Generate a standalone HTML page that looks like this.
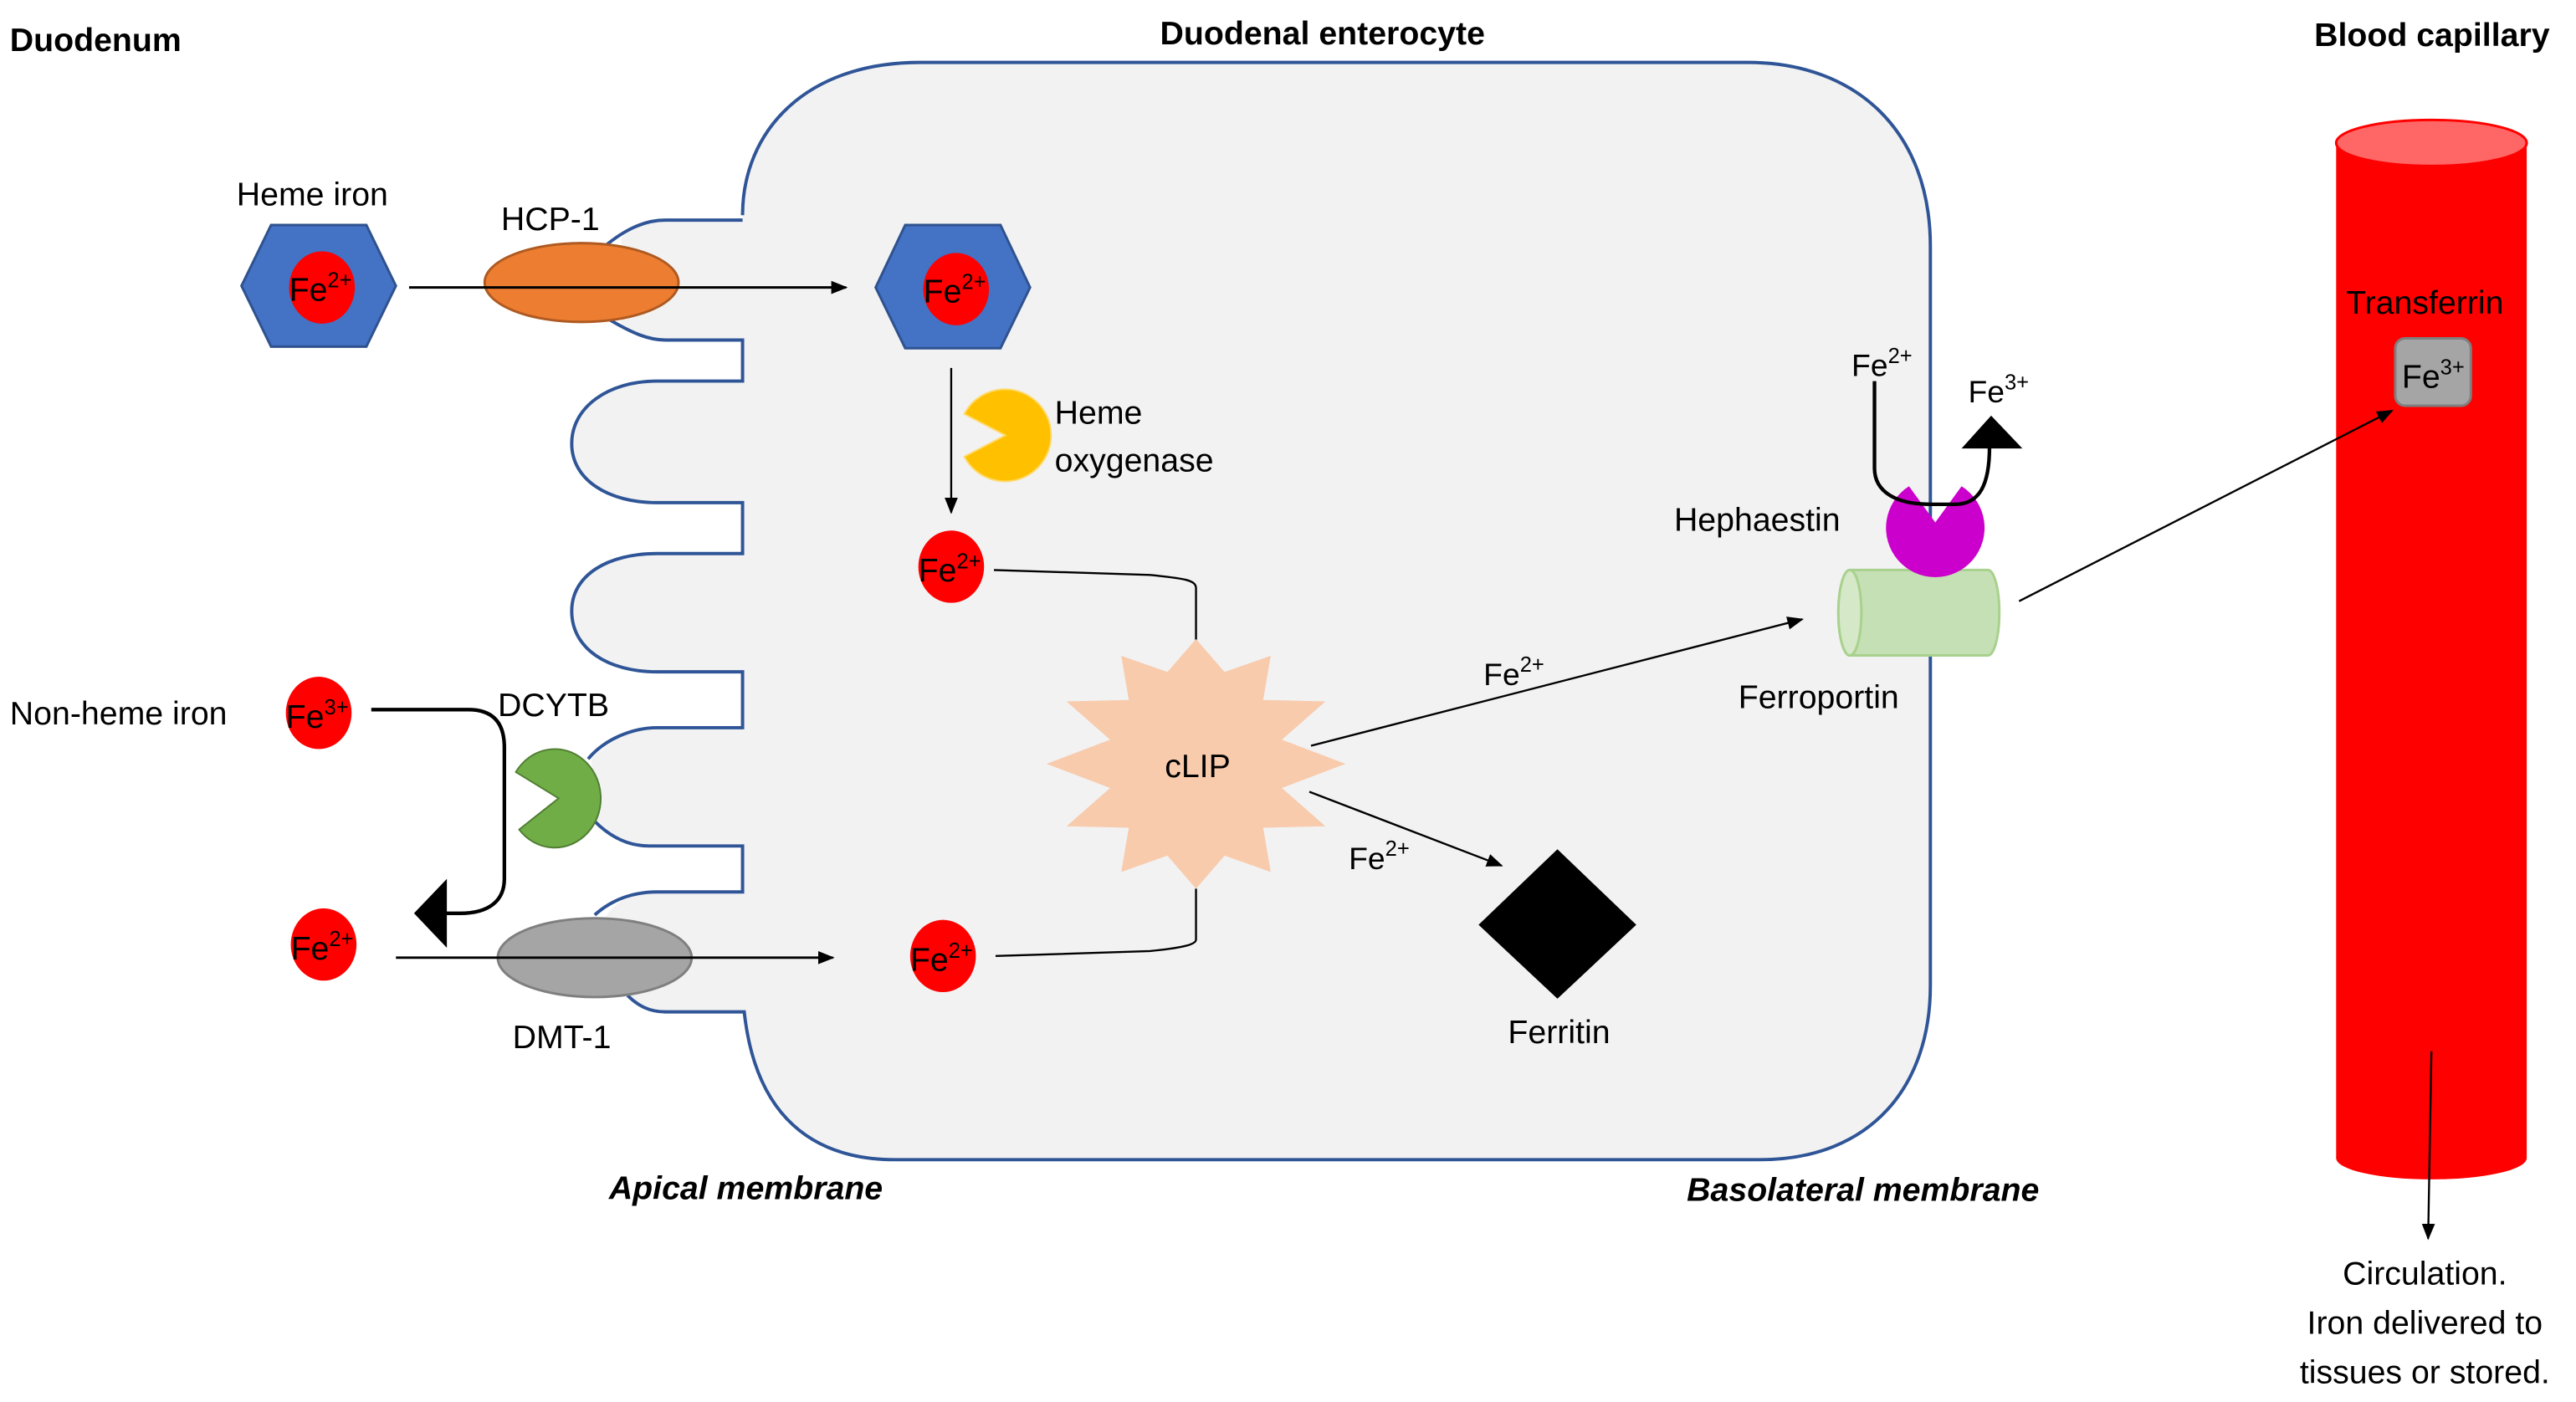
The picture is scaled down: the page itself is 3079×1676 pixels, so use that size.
<!DOCTYPE html>
<html><head><meta charset="utf-8"><style>
html,body{margin:0;padding:0;background:#fff;}
svg{display:block;}
text{font-family:"Liberation Sans",sans-serif;fill:#000;}
</style></head><body>
<svg width="3079" height="1676" viewBox="0 0 1568 853.5" xmlns="http://www.w3.org/2000/svg">
<defs>
<marker id="a" markerWidth="10" markerHeight="10" refX="9" refY="5" orient="auto" markerUnits="userSpaceOnUse"><path d="M0,1 L10,5 L0,9 Z" fill="#000"/></marker>
</defs>

<path d="M452,131 C452,80 490,38 560,38 L1064,38 C1130,38 1175,80 1175,150 L1175,600 C1175,660 1140,706 1071,706 L545,706 C495,706 460,680 453,616 L405,616 C395,616 388,612 382,606 L368,560 C372,550 385,543 400,543 L452,543 L452,515 L395,515 C383,515 372,510 362,500 L360,462 C372,450 385,443 400,443 L452,443 L452,409 L400,409 C370,409 348,395 348,372 C348,350 370,337 400,337 L452,337 L452,306 L400,306 C370,306 348,292 348,270 C348,248 370,232 400,232 L452,232 L452,207 L405,207 C395,207 385,203 378,197 L378,145 C385,138 395,134 405,134 L452,134 Z" fill="#F2F2F2" stroke="none"/>
<path d="M452,131 C452,80 490,38 560,38 L1064,38 C1130,38 1175,80 1175,150 L1175,600 C1175,660 1140,706 1071,706 L545,706 C495,706 460,680 453,616 L405,616 C395,616 388,612 382,606 M362,557 C372,548 385,543 400,543 L452,543 L452,515 L395,515 C383,515 372,510 362,500 M358,462 C368,450 385,443 400,443 L452,443 L452,409 L400,409 C370,409 348,395 348,372 C348,350 370,337 400,337 L452,337 L452,306 L400,306 C370,306 348,292 348,270 C348,248 370,232 400,232 L452,232 L452,207 L405,207 C395,207 385,203 370,194 M368,150 C380,140 392,134 405,134 L452,134" fill="none" stroke="#2F5597" stroke-width="2"/>

<text x="6" y="31" font-size="20" font-weight="bold">Duodenum</text>
<text x="805" y="27" font-size="20" font-weight="bold" text-anchor="middle">Duodenal enterocyte</text>
<text x="1552" y="28" font-size="20" font-weight="bold" text-anchor="end">Blood capillary</text>
<text x="454" y="730" font-size="20" font-weight="bold" font-style="italic" text-anchor="middle">Apical membrane</text>
<text x="1134" y="731" font-size="20" font-weight="bold" font-style="italic" text-anchor="middle">Basolateral membrane</text>

<text x="144" y="125" font-size="20">Heme iron</text>
<polygon points="147,174 165,137 223,137 241,174 223,211 165,211" fill="#4472C4" stroke="#2F528F" stroke-width="1.5"/>
<ellipse cx="196" cy="175" rx="20" ry="22" fill="#FF0000"/>
<text x="176" y="183" font-size="20">Fe<tspan font-size="13" dy="-8">2+</tspan></text>

<text x="305" y="140" font-size="20">HCP-1</text>
<ellipse cx="354" cy="172" rx="59" ry="24" fill="#ED7D31" stroke="#AE5A21" stroke-width="1.5"/>
<line x1="249" y1="175" x2="515" y2="175" stroke="#000" stroke-width="1.5" marker-end="url(#a)"/>

<polygon points="533,175 551,137 609,137 627,175 609,212 551,212" fill="#4472C4" stroke="#2F528F" stroke-width="1.5"/>
<ellipse cx="582" cy="176" rx="20" ry="22" fill="#FF0000"/>
<text x="562" y="184" font-size="20">Fe<tspan font-size="13" dy="-8">2+</tspan></text>

<line x1="579" y1="224" x2="579" y2="312" stroke="#000" stroke-width="1.2" marker-end="url(#a)"/>
<path d="M612,265 L587,252 A28,28 0 1 1 587,278 Z" fill="#FFC000" stroke="#FFD966" stroke-width="1"/>
<text x="642" y="258" font-size="20">Heme</text>
<text x="642" y="287" font-size="20">oxygenase</text>

<ellipse cx="579" cy="345" rx="20" ry="22" fill="#FF0000"/>
<text x="559" y="354" font-size="20">Fe<tspan font-size="13" dy="-8">2+</tspan></text>
<path d="M605,347 L700,350 C720,352 728,353 728,358 L728,390" fill="none" stroke="#000" stroke-width="1.2"/>

<polygon fill="#F8CBAD" points="728.0,389.0 745.4,409.1 773.5,399.2 768.9,426.1 806.8,427.0 780.3,450.3 819.0,465.0 780.3,479.7 806.8,503.0 768.9,503.9 773.5,530.8 745.4,520.9 728.0,541.0 710.6,520.9 682.5,530.8 687.1,503.9 649.2,503.0 675.7,479.7 637.0,465.0 675.7,450.3 649.2,427.0 687.1,426.1 682.5,399.2 710.6,409.1"/>
<text x="729" y="473" font-size="20" text-anchor="middle">cLIP</text>

<ellipse cx="574" cy="582" rx="20" ry="22" fill="#FF0000"/>
<text x="554" y="591" font-size="20">Fe<tspan font-size="13" dy="-8">2+</tspan></text>
<path d="M606,582 L700,579 C720,577 728,575 728,572 L728,541" fill="none" stroke="#000" stroke-width="1.2"/>

<line x1="798" y1="454" x2="1097" y2="377" stroke="#000" stroke-width="1.2" marker-end="url(#a)"/>
<text x="903" y="417" font-size="19">Fe<tspan font-size="13" dy="-8">2+</tspan></text>
<line x1="797" y1="482" x2="914" y2="527" stroke="#000" stroke-width="1.2" marker-end="url(#a)"/>
<text x="821" y="529" font-size="19">Fe<tspan font-size="13" dy="-8">2+</tspan></text>

<polygon points="948,517 996,563 948,608 900,563" fill="#000"/>
<text x="949" y="635" font-size="20" text-anchor="middle">Ferritin</text>

<path d="M1126,347 L1210,347 A7,26 0 0 1 1210,399 L1126,399 A7,26 0 0 1 1126,347 Z" fill="#C5E0B4" stroke="#A9D18E" stroke-width="1.5"/>
<ellipse cx="1126" cy="373" rx="7" ry="26" fill="#D5E8C8" stroke="#A9D18E" stroke-width="1.5"/>
<text x="1107" y="431" font-size="20" text-anchor="middle">Ferroportin</text>

<path d="M1178,318 L1162,296 A30,30 0 1 0 1194,296 Z" fill="#CC00CC"/>
<text x="1019" y="323" font-size="20">Hephaestin</text>
<text x="1127" y="229" font-size="19">Fe<tspan font-size="13" dy="-8">2+</tspan></text>
<text x="1198" y="245" font-size="19">Fe<tspan font-size="13" dy="-8">3+</tspan></text>
<path d="M1141,232 L1141,285 C1141,300 1155,307 1175,307 L1190,307 C1205,307 1211,295 1211,272" fill="none" stroke="#000" stroke-width="2.2"/>
<polygon points="1212,253 1231,273 1194,273" fill="#000"/>

<text x="6" y="441" font-size="20">Non-heme iron</text>
<ellipse cx="194" cy="434" rx="20" ry="22" fill="#FF0000"/>
<text x="174" y="443" font-size="20">Fe<tspan font-size="13" dy="-8">3+</tspan></text>
<text x="303" y="436" font-size="20">DCYTB</text>
<path d="M340,486 L314,470 A28,30 0 1 1 316,505 Z" fill="#70AD47" stroke="#507E32" stroke-width="1"/>
<path d="M226,432 L285,432 C300,432 307,440 307,455 L307,535 C307,548 298,556 280,556 L270,556" fill="none" stroke="#000" stroke-width="2.2"/>
<polygon points="252,556 272,535 272,577" fill="#000"/>

<ellipse cx="197" cy="575" rx="20" ry="22" fill="#FF0000"/>
<text x="177" y="584" font-size="20">Fe<tspan font-size="13" dy="-8">2+</tspan></text>
<ellipse cx="362" cy="583" rx="59" ry="24" fill="#A5A5A5" stroke="#7F7F7F" stroke-width="1.5"/>
<line x1="241" y1="583" x2="507" y2="583" stroke="#000" stroke-width="1.5" marker-end="url(#a)"/>
<text x="312" y="638" font-size="20">DMT-1</text>

<rect x="1422" y="87" width="116" height="618" fill="#FF0000"/>
<ellipse cx="1480" cy="705" rx="58" ry="13" fill="#FF0000"/>
<ellipse cx="1480" cy="87" rx="58" ry="14" fill="#FF6666" stroke="#FF0000" stroke-width="1.5"/>
<text x="1428" y="191" font-size="20">Transferrin</text>
<rect x="1458" y="206" width="46" height="41" rx="6" fill="#A5A5A5" stroke="#7F7F7F" stroke-width="1.5"/>
<text x="1462" y="236" font-size="20">Fe<tspan font-size="13" dy="-8">3+</tspan></text>
<line x1="1229" y1="366" x2="1456" y2="250" stroke="#000" stroke-width="1.2" marker-end="url(#a)"/>
<line x1="1480" y1="640" x2="1478" y2="754" stroke="#000" stroke-width="1.2" marker-end="url(#a)"/>
<text x="1476" y="782" font-size="20" text-anchor="middle">Circulation.</text>
<text x="1476" y="812" font-size="20" text-anchor="middle">Iron delivered to</text>
<text x="1476" y="842" font-size="20" text-anchor="middle">tissues or stored.</text>
</svg>
</body></html>
